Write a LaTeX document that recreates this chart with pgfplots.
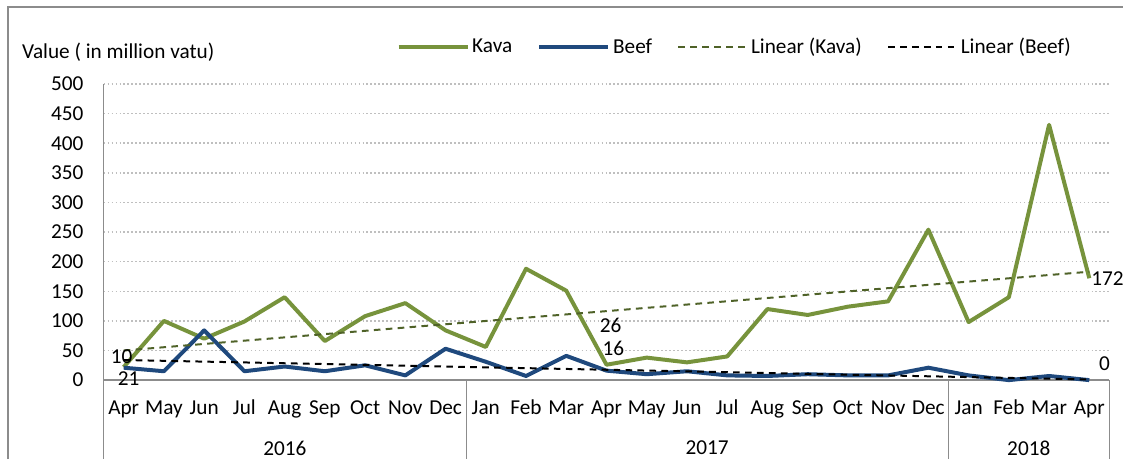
\documentclass[border=0pt]{standalone}
\usepackage{fontspec}
\setmainfont{Carlito}
\usepackage{pgfplots}
\usepackage{pgfplotstable}
\pgfplotsset{compat=1.18}
\definecolor{kava}{HTML}{77933C}
\definecolor{beef}{HTML}{1F497D}
\definecolor{kavatrend}{HTML}{4F6228}
\definecolor{axgray}{HTML}{8C8C8C}
\definecolor{gridgray}{HTML}{BFBFBF}

% months Apr 2016 .. Apr 2018, value in million vatu
\pgfplotstableread{
x  kava beef
0  22   21
1  100  15
2  70   84
3  99   15
4  140  23
5  66   15
6  108  25
7  130  8
8  84   53
9  56   31
10 188  7
11 151  41
12 26   16
13 38   10
14 30   15
15 40   8
16 120  7
17 110  10
18 124  8
19 133  8
20 254  21
21 98   8
22 140  0
23 431  7
24 172  0
}\exports

\begin{document}
\begin{tikzpicture}[font=\fontsize{16}{19}\selectfont]
  % frame and bounding box in pixel units of the reference
  \begin{scope}[x=0.75pt,y=-0.75pt,shift={(-104,-381.7)}]
    \useasboundingbox (0,0) rectangle (1128,461);
    \draw[axgray, line width=1.1pt] (8,461) -- (8,7) -- (1128,7);
  \end{scope}

  \begin{axis}[
      at={(0,0)}, anchor=south west,
      scale only axis,
      width=757.5pt, height=223.05pt,
      xmin=-0.5, xmax=24.5,
      ymin=0, ymax=500,
      xtick={0,...,24},
      xticklabels={Apr,May,Jun,Jul,Aug,Sep,Oct,Nov,Dec,Jan,Feb,Mar,Apr,May,Jun,Jul,Aug,Sep,Oct,Nov,Dec,Jan,Feb,Mar,Apr},
      ytick={0,50,...,500},
      axis x line*=bottom,
      axis y line*=left,
      axis line style={axgray, line width=1.1pt, -},
      major tick length=0pt,
      ymajorgrids,
      grid style={gridgray, line width=1.1pt, dash pattern=on 1.1pt off 1.9pt},
      xticklabel style={anchor=base, yshift=-26.2pt},
      yticklabel style={anchor=east, inner sep=0pt, xshift=-15pt},
      /pgf/number format/assume math mode=true,
      clip=false,
      legend columns=4,
      legend cell align=left,
      legend image code/.code={\draw[#1] (0pt,0pt) -- (52pt,0pt);},
      legend style={at={(0.291,1.1254)}, anchor=west, draw=none, fill=none,
        inner sep=0pt, /tikz/every even column/.append style={column sep=17pt}},
    ]
    \addplot[kava, line width=3pt, line join=round] table[x=x, y=kava] {\exports};
    \addlegendentry{Kava}
    \addplot[beef, line width=3pt, line join=round] table[x=x, y=beef] {\exports};
    \addlegendentry{Beef}
    \addplot[kavatrend, line width=1.5pt, dash pattern=on 5pt off 4pt] coordinates {(0,50) (24,183)};
    \addlegendentry{Linear (Kava)}
    \addplot[black, line width=1.5pt, dash pattern=on 5pt off 4pt] coordinates {(0,34) (24,1)};
    \addlegendentry{Linear (Beef)}

    \node at (axis cs:-0.05,40) {10};
    \node at (axis cs:0.12,3) {21};
    \node at (axis cs:12.1,92) {26};
    \node at (axis cs:12.17,53) {16};
    \node at (axis cs:24.45,171) {172};
    \node at (axis cs:24.38,28) {0};
  \end{axis}

  \begin{scope}[x=0.75pt,y=-0.75pt,shift={(-104,-381.7)}]
    \draw[axgray, line width=1.1pt] (104,381.7) -- (104,461)
      (468.4,381.7) -- (468.4,461)
      (952.4,381.7) -- (952.4,461)
      (1114,381.7) -- (1114,461);
    \node at (286,450) {2016};
    \node at (710,450) {2017};
    \node at (1033,450) {2018};
    \node[anchor=west, inner sep=0pt] at (22,52) {Value ( in million vatu)};
  \end{scope}
\end{tikzpicture}
\end{document}
